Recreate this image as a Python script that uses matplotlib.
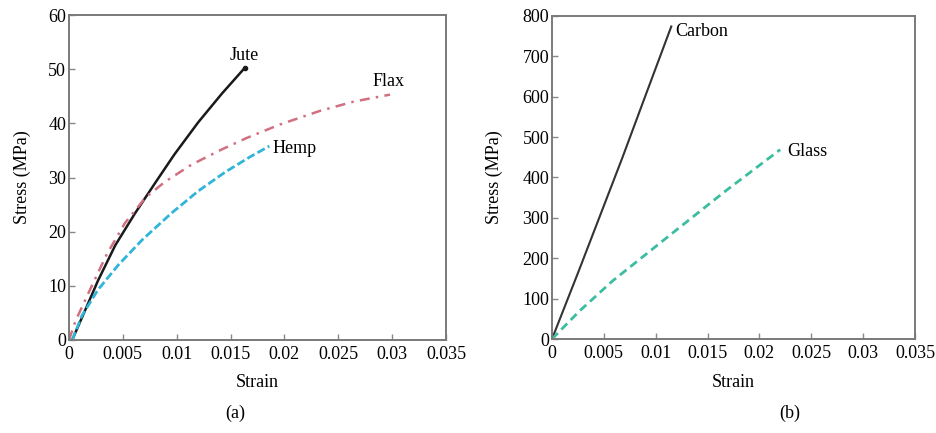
### stress-strain curves: (a) natural fibres, (b) carbon and glass

import numpy as np
import matplotlib.pyplot as plt

plt.rcParams['font.family'] = ['Liberation Serif', 'DejaVu Serif']

# panel (a) natural fibres
jute_strain = [0.0003, 0.0015, 0.0027, 0.0043, 0.0061, 0.008, 0.0098, 0.012, 0.0142, 0.0163]
jute_stress = [0, 5.5, 11.0, 17.5, 23.3, 29.0, 34.3, 40.2, 45.5, 50.2]

flax_strain = [0, 0.0006, 0.002, 0.0035, 0.0052, 0.0071, 0.0089, 0.0114, 0.0142,
               0.0165, 0.0196, 0.0233, 0.0264, 0.0298]
flax_stress = [0, 3.5, 9.5, 15.8, 21.6, 26.3, 29.2, 32.4, 35.2,
               37.3, 39.8, 42.3, 44.0, 45.3]

hemp_strain = [0.0003, 0.0012, 0.0027, 0.0046, 0.0068, 0.0095, 0.012, 0.0145, 0.0168, 0.0186]
hemp_stress = [0, 4.5, 9.3, 13.9, 18.5, 23.4, 27.5, 31.0, 33.8, 35.8]

# panel (b) synthetic fibres
carbon_strain = [0, 0.0026, 0.0068, 0.009, 0.0115]
carbon_stress = [0, 170, 450, 602, 774]

glass_strain = [0, 0.0026, 0.0058, 0.0116, 0.0167, 0.022]
glass_stress = [0, 68, 143, 262, 366, 469]

xticks = [0, 0.005, 0.01, 0.015, 0.02, 0.025, 0.03, 0.035]
xticklabels = ["0", "0.005", "0.01", "0.015", "0.02", "0.025", "0.03", "0.035"]

fs = 13
fig = plt.figure(figsize=(9.37, 4.33), dpi=100)
W, H = 937.0, 433.0
ax1 = fig.add_axes([69 / W, 1 - 340 / H, 377 / W, 325 / H])
ax2 = fig.add_axes([552 / W, 1 - 339 / H, 363 / W, 323 / H])

ax1.plot(jute_strain, jute_stress, color="#1a1a1a", lw=1.8)
ax1.plot(jute_strain[-1:], jute_stress[-1:], "o", color="#1a1a1a", ms=3)
ax1.plot(flax_strain, flax_stress, color="#d07080", lw=1.8, ls=(0, (4, 2.5, 1, 2.5)))
ax1.plot(hemp_strain, hemp_stress, color="#30b4d8", lw=2.0, ls=(0, (3, 1.2)))
ax1.text(0.0163, 52.5, "Jute", fontsize=fs, va="center", ha="center")
ax1.text(0.0282, 47.8, "Flax", fontsize=fs, va="center", ha="left")
ax1.text(0.0189, 35.4, "Hemp", fontsize=fs, va="center", ha="left")
ax1.set_ylim(0, 60)
ax1.set_yticks(range(0, 61, 10))

ax2.plot(carbon_strain, carbon_stress, color="#333333", lw=1.5)
ax2.plot(glass_strain, glass_stress, color="#3cbca0", lw=2.0, ls=(0, (3, 1.8)))
ax2.text(0.0119, 762, "Carbon", fontsize=fs, va="center", ha="left")
ax2.text(0.02265, 465, "Glass", fontsize=fs, va="center", ha="left")
ax2.set_ylim(0, 800)
ax2.set_yticks(range(0, 801, 100))

for ax in (ax1, ax2):
    ax.set_xlim(0, 0.035)
    ax.set_xticks(xticks)
    ax.set_xticklabels(xticklabels)
    ax.tick_params(direction="in", length=4, width=1, color="#888888",
                   labelsize=fs, pad=2)
    ax.tick_params(axis="x", pad=4)
    for s in ax.spines.values():
        s.set_color("#7a7a7a")
        s.set_linewidth(1.4)
    ax.set_xlabel("Strain", fontsize=fs, va="center")
    ax.set_ylabel("Stress (MPa)", fontsize=fs, va="center")

ax1.xaxis.set_label_coords(0.5, -0.132)
ax2.xaxis.set_label_coords(0.5, -0.136)
ax1.yaxis.set_label_coords(-0.125, 0.5)
ax2.yaxis.set_label_coords(-0.16, 0.5)

fig.text(235 / W, 1 - 413 / H, "(a)", fontsize=fs, ha="center", va="center")
fig.text(790 / W, 1 - 413 / H, "(b)", fontsize=fs, ha="center", va="center")

fig.savefig("out.png", dpi=100)
